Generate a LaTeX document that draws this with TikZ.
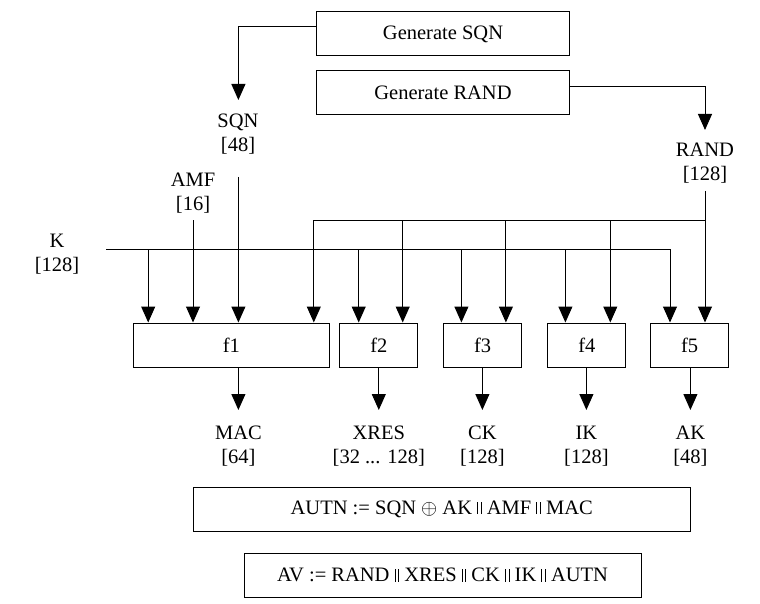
\documentclass[tikz,border=0pt]{standalone}
\usepackage{fontspec}
\setmainfont{Liberation Serif}
\usepackage{tikz}
\usetikzlibrary{positioning,arrows.meta}

\newcommand{\cc}{\ \rule{1pt}{0.6em}\hspace{2.5pt}\rule{1pt}{0.6em}\ }

\begin{document}
\begin{tikzpicture}[x=1pt, y=-1pt, line width=1pt,
    >={Triangle[length=16pt,width=14pt]},
    box/.style={draw, rectangle, inner sep=0pt, minimum height=44pt},
    lbl/.style={align=center, inner sep=0pt},
    font=\fontsize{20.5}{23.5}\selectfont]
            \useasboundingbox (0,0) rectangle (760,604);

            % Nodes
            \node[box, minimum width=253] (gensqn) at (443,34) {Generate SQN};
            \node[box, minimum width=253] (genrand) at (443,93) {Generate RAND};
            \node[lbl] (sqn) at (238,134) {SQN\\{[48]}};
            \node[lbl] (rand) at (705,163) {RAND\\{[128]}};
            \node[lbl] (amf) at (193,193) {AMF\\{[16]}};
            \node[lbl] (k) at (57,254) {K\\{[128]}};
            \node[box, minimum width=196] (f1) at (231.4,345) {f1};
            \node[box, minimum width=78] (f2) at (378.8,345) {f2};
            \node[box, minimum width=78] (f3) at (482.6,345) {f3};
            \node[box, minimum width=78] (f4) at (586.8,345) {f4};
            \node[box, minimum width=78] (f5) at (689.7,345) {f5};
            \node[lbl] (mac) at (238.4,446) {MAC\\{[64]}};
            \node[lbl] (xres) at (378.8,446) {XRES\\{[32 ... 128]}};
            \node[lbl] (ck) at (482.4,446) {CK\\{[128]}};
            \node[lbl] (ik) at (586.4,446) {IK\\{[128]}};
            \node[lbl] (ak) at (690.4,446) {AK\\{[48]}};
            \node[box, minimum width=497] (autn) at (441.7,509) {AUTN := SQN $\oplus$ AK\cc AMF\cc MAC};
            \node[box, minimum width=397] (av) at (442.5,575) {AV := RAND\cc XRES\cc CK\cc IK\cc AUTN};

            % Points
            \coordinate (sqnin) at (238.4,100);
            \coordinate (randin) at (705,130);
            \coordinate (sqnout) at (238.4,177);
            \coordinate (randout) at (705,191);
            \coordinate (amfout) at (193,220);
            \coordinate (kout) at (106,249);
            \coordinate (kend) at (670,249);
            \coordinate (randbus) at (313.8,220);

            % Edges
            \draw[->] ([yshift=7]gensqn.west) -| (sqnin);
            \draw[->] ([yshift=6]genrand.east) -| (randin);
            \draw[->] (sqnout) -- (sqnout |- f1.north);
            \draw[->] (amfout) -- (amfout |- f1.north);
            \draw[->] (randout) -- (randout |- f5.north);
            \draw[->] (kout) -- (kend) -- (kend |- f5.north);
            \draw[->] (randout |- randbus) -- (randbus) -- (randbus |- f1.north);
            \foreach \x/\f in {148.2/f1, 358.7/f2, 461.4/f3, 565.4/f4}
                \draw[->] (\x,249) -- (\x,0 |- \f.north);
            \foreach \x/\f in {402.7/f2, 505.9/f3, 610.3/f4}
                \draw[->] (\x,220) -- (\x,0 |- \f.north);
            \draw[->] (f1.south -| mac) -- (mac.north |- 0,410);
            \foreach \f/\o in {f2/xres, f3/ck, f4/ik, f5/ak}
                \draw[->] (\f.south -| \o) -- (\o.north |- 0,410);

        \end{tikzpicture}
\end{document}
